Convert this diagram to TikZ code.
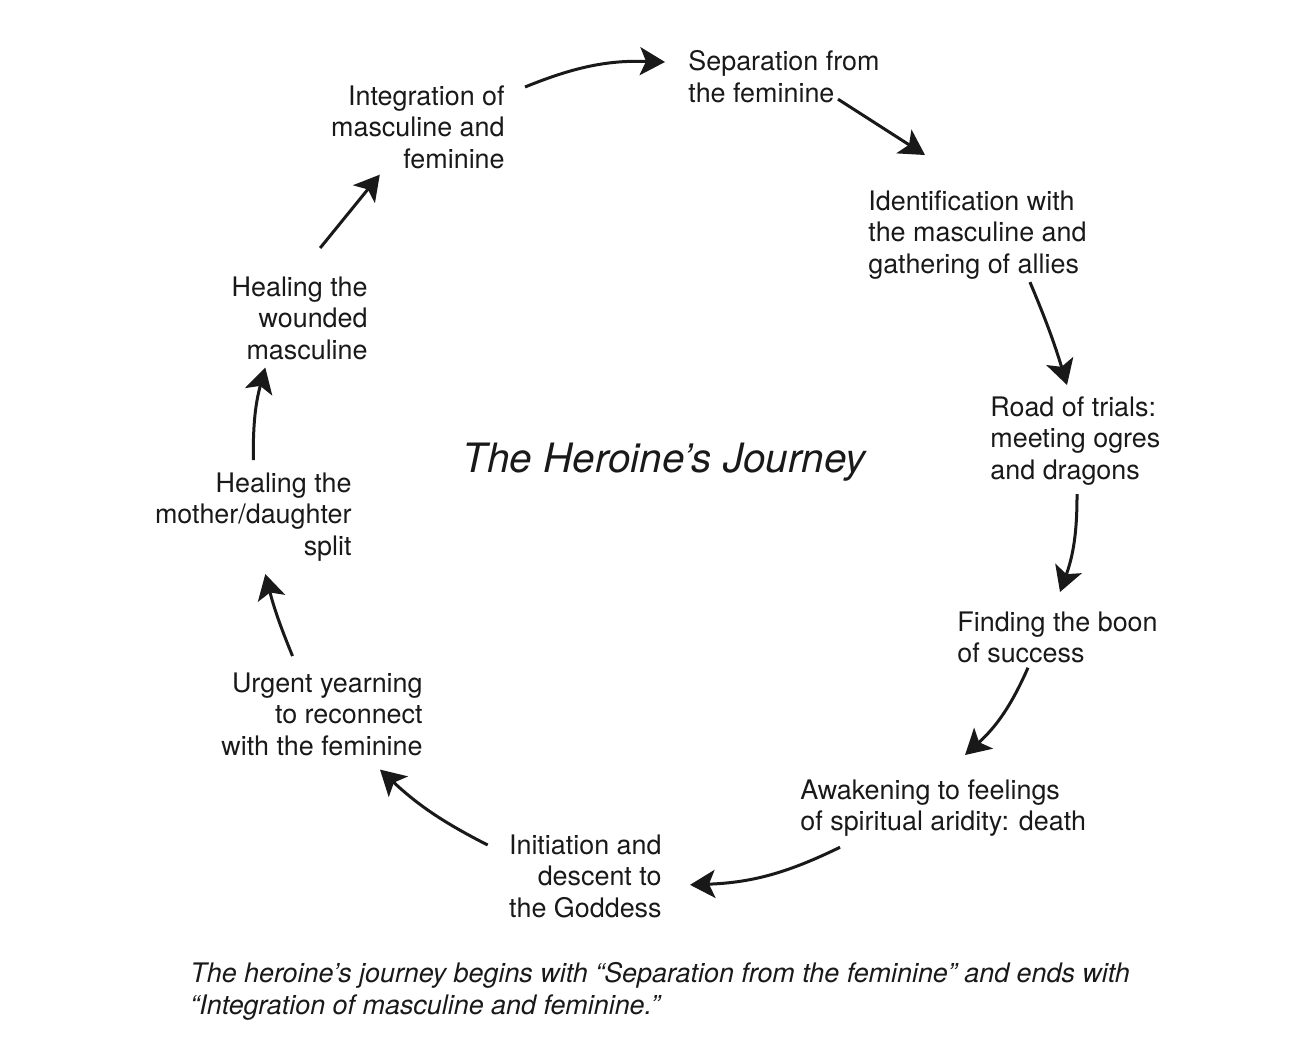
\documentclass[tikz,border=0pt]{standalone}
\usepackage{fontspec}
\setmainfont{TeX Gyre Heros}
\usetikzlibrary{arrows.meta}

\begin{document}
\begin{tikzpicture}[x=0.5bp, y=0.5bp,
    stage/.style={inner sep=0pt, font=\fontsize{13.5}{16}\selectfont, text=black!90},
    flow/.style={-{Stealth[length=12.5bp, width=14bp, inset=3bp]}, line width=1.5bp, draw=black!90}]
  \useasboundingbox (0,0) rectangle (1315,-1049);
  % the stages, clockwise from the top
  \node[stage, anchor=north west, align=left] (sep) at (688,-50) {Separation from\\the feminine};
  \node[stage, anchor=north west, align=left] (ident) at (868,-190) {Identification with\\the masculine and\\gathering of allies};
  \node[stage, anchor=north west, align=left] (road) at (990,-396) {Road of trials:\\meeting ogres\\and dragons};
  \node[stage, anchor=north west, align=left] (find) at (957,-611) {Finding the boon\\of success};
  \node[stage, anchor=north west, align=left] (awak) at (800,-779) {Awakening to feelings\\of spiritual aridity: death};
  \node[stage, anchor=north east, align=right] (init) at (662,-834) {Initiation and\\descent to\\the Goddess};
  \node[stage, anchor=north east, align=right] (urg) at (423,-672) {Urgent yearning\\to reconnect\\with the feminine};
  \node[stage, anchor=north east, align=right] (mom) at (352,-472) {Healing the\\mother/daughter\\split};
  \node[stage, anchor=north east, align=right] (wound) at (368,-276) {Healing the\\wounded\\masculine};
  \node[stage, anchor=north east, align=right] (integ) at (505,-85) {Integration of\\masculine and\\feminine};
  % title and caption
  \node[inner sep=0pt, anchor=north, text=black!90, font=\fontsize{20.3}{24}\selectfont\itshape] (title) at (664,-443) {The Heroine’s Journey};
  \node[stage, anchor=north west, align=left, font=\fontsize{13.5}{16}\selectfont\itshape] (caption) at (190,-962)
    {The heroine’s journey begins with “Separation from the feminine” and ends with\\“Integration of masculine and feminine.”};
  % arrows
  \draw[flow] ([shift={(20,-2)}]integ.north east) to[bend left=12] ([shift={(-23,-12)}]sep.north west);
  \draw[flow] ([shift={(150,4)}]sep.south west) to ([shift={(57,35)}]ident.north west);
  \draw[flow] ([shift={(-57,-2)}]ident.south east) to[bend left=3] ([shift={(77,11)}]road.north west);
  \draw[flow] ([shift={(87,-8)}]road.south west) to[bend left=10] ([shift={(103,19)}]find.north west);
  \draw[flow] ([shift={(71,-4)}]find.south west) to[bend left=12] ([shift={(165,24)}]awak.north west);
  \draw[flow] ([shift={(40,-10)}]awak.south west) to[bend left=12] ([shift={(28,-8.5)}]init.east);
  \draw[flow] ([shift={(-21,-11)}]init.north west) to[bend left=8] ([shift={(-43,-13)}]urg.south east);
  \draw[flow] ([shift={(-29.5,16)}]urg.north) to[bend left=4] ([shift={(12,-12)}]mom.south);
  \draw[flow] ([shift={(0,12)}]mom.north) to[bend left=8] ([shift={(34,-7)}]wound.south west);
  \draw[flow] ([shift={(20.5,28)}]wound.north) to ([shift={(49,-5)}]integ.south west);
\end{tikzpicture}
\end{document}
